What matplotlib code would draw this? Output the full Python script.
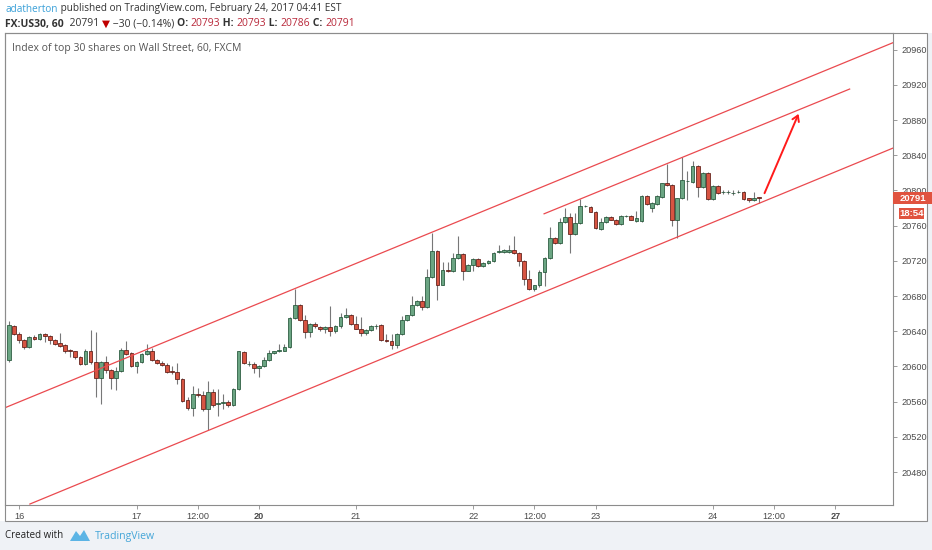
import matplotlib
matplotlib.use("Agg")
import matplotlib.pyplot as plt
from matplotlib.patches import Rectangle, Polygon, FancyArrowPatch
import numpy as np

# ---------------- data ----------------
opens = [20607, 20646, 20637, 20630, 20622, 20634, 20631, 20637, 20635, 20630,
         20627, 20624, 20619, 20617, 20611, 20603, 20617, 20605, 20587, 20605,
         20596, 20587, 20595, 20619, 20615, 20600, 20605, 20614, 20617, 20607,
         20604, 20602, 20595, 20594, 20586, 20562, 20553, 20569, 20568, 20552,
         20571, 20557, 20559, 20560, 20556, 20574, 20616, 20603, 20603, 20598,
         20600, 20607, 20615, 20617, 20618, 20622, 20655, 20670, 20653, 20639,
         20648, 20645, 20642, 20645, 20640, 20646, 20656, 20659, 20648, 20643,
         20638, 20641, 20646, 20647, 20630, 20629, 20624, 20637, 20653, 20658,
         20670, 20674, 20668, 20702, 20731, 20693, 20710, 20708, 20723, 20728,
         20709, 20715, 20722, 20714, 20718, 20720, 20730, 20730, 20730, 20732,
         20729, 20720, 20699, 20688, 20692, 20707, 20723, 20746, 20740, 20764,
         20770, 20750, 20763, 20782, 20781, 20776, 20756, 20764, 20770, 20767,
         20762, 20771, 20771, 20765, 20765, 20794, 20780, 20785, 20793, 20808,
         20806, 20767, 20791, 20811, 20810, 20828, 20804, 20820, 20790, 20805,
         20798, 20798, 20797, 20798, 20798, 20791, 20789, 20793]
highs = [20652, 20647, 20639, 20631, 20635, 20636, 20638, 20638, 20636, 20631,
         20638, 20626, 20620, 20618, 20612, 20620, 20641, 20639, 20606, 20612,
         20597, 20599, 20621, 20629, 20616, 20606, 20615, 20625, 20621, 20608,
         20606, 20604, 20601, 20604, 20587, 20565, 20578, 20576, 20572, 20583,
         20574, 20574, 20569, 20562, 20575, 20618, 20617, 20606, 20605, 20602,
         20611, 20619, 20618, 20626, 20626, 20656, 20688, 20671, 20658, 20649,
         20650, 20646, 20646, 20669, 20647, 20661, 20666, 20660, 20657, 20656,
         20642, 20647, 20648, 20648, 20637, 20637, 20638, 20657, 20659, 20680,
         20675, 20680, 20711, 20752, 20732, 20719, 20719, 20729, 20748, 20729,
         20716, 20723, 20723, 20719, 20721, 20730, 20738, 20734, 20738, 20748,
         20730, 20721, 20710, 20693, 20710, 20724, 20758, 20747, 20769, 20780,
         20774, 20774, 20790, 20783, 20782, 20777, 20769, 20771, 20771, 20768,
         20772, 20772, 20772, 20777, 20795, 20795, 20787, 20795, 20809, 20830,
         20807, 20792, 20838, 20822, 20833, 20829, 20821, 20821, 20806, 20806,
         20801, 20801, 20800, 20801, 20799, 20792, 20798, 20793]
lows = [20605, 20636, 20627, 20620, 20621, 20630, 20630, 20628, 20625, 20624,
        20622, 20615, 20611, 20609, 20602, 20602, 20603, 20565, 20557, 20592,
        20574, 20573, 20594, 20613, 20599, 20592, 20604, 20613, 20606, 20603,
        20601, 20593, 20591, 20580, 20560, 20550, 20544, 20565, 20549, 20528,
        20554, 20544, 20552, 20554, 20555, 20573, 20603, 20600, 20592, 20588,
        20599, 20606, 20614, 20616, 20617, 20621, 20654, 20652, 20632, 20633,
        20644, 20640, 20638, 20635, 20638, 20644, 20655, 20647, 20642, 20635,
        20636, 20640, 20643, 20629, 20628, 20620, 20621, 20636, 20652, 20657,
        20669, 20664, 20666, 20701, 20675, 20692, 20707, 20707, 20722, 20698,
        20708, 20708, 20713, 20713, 20717, 20719, 20729, 20729, 20729, 20728,
        20714, 20692, 20687, 20686, 20690, 20691, 20722, 20739, 20739, 20763,
        20729, 20749, 20762, 20781, 20775, 20756, 20755, 20763, 20766, 20761,
        20761, 20770, 20766, 20764, 20764, 20784, 20776, 20784, 20792, 20805,
        20760, 20746, 20790, 20789, 20809, 20793, 20803, 20789, 20789, 20796,
        20796, 20796, 20795, 20797, 20789, 20787, 20788, 20786]
closes = [20647, 20637, 20630, 20622, 20634, 20631, 20637, 20635, 20630, 20626,
          20623, 20618, 20617, 20611, 20603, 20617, 20605, 20587, 20605, 20596,
          20587, 20595, 20619, 20614, 20600, 20605, 20614, 20617, 20607, 20604,
          20602, 20594, 20594, 20586, 20561, 20553, 20569, 20567, 20552, 20571,
          20556, 20559, 20560, 20556, 20574, 20617, 20604, 20603, 20598, 20601,
          20607, 20615, 20617, 20619, 20622, 20655, 20670, 20653, 20639, 20648,
          20646, 20642, 20645, 20640, 20646, 20656, 20659, 20648, 20643, 20638,
          20641, 20646, 20646, 20630, 20629, 20624, 20637, 20653, 20658, 20670,
          20674, 20668, 20702, 20731, 20693, 20710, 20708, 20723, 20728, 20709,
          20715, 20722, 20714, 20718, 20720, 20729, 20731, 20732, 20732, 20729,
          20720, 20699, 20688, 20692, 20707, 20723, 20746, 20740, 20764, 20770,
          20750, 20763, 20782, 20782, 20776, 20757, 20764, 20770, 20767, 20762,
          20771, 20771, 20767, 20769, 20794, 20785, 20786, 20794, 20808, 20806,
          20767, 20791, 20812, 20811, 20828, 20804, 20820, 20790, 20805, 20797,
          20798, 20798, 20797, 20798, 20790, 20789, 20792, 20791]

tick_pos = [2, 25, 37, 49, 68, 91, 103, 115, 138, 150, 162]
tick_labels = ["16", "17", "12:00", "20", "21", "22", "12:00", "23", "24", "12:00", "27"]
bold_labels = {"20", "27"}
price_ticks = list(range(20480, 20961, 40))

# channel lines (bar index, price)
upper_x, upper_y = [-0.8, 173.3], [20553, 20968]
lower_x, lower_y = [4.1, 173.3], [20443.6, 20848.2]
mid_x, mid_y = [104.9, 164.8], [20773.5, 20915.3]
arrow_x, arrow_y = [147.9, 155.0], [20794, 20890]

last_price = 20791
countdown = "18:54"

# ---------------- figure ----------------
W, H = 932, 550
fig = plt.figure(figsize=(W / 100, H / 100), dpi=100, facecolor="white")

def fx(px):
    return px / W

def fy(py):
    return 1 - py / H

# light background strip below / right of the chart frame
fig.patches.append(Rectangle((0, 0), 1, fy(521), transform=fig.transFigure,
                             facecolor="#eff2f6", edgecolor="none", zorder=0))
fig.patches.append(Rectangle((fx(927), fy(521)), 1 - fx(927), fy(33) - fy(521),
                             transform=fig.transFigure, facecolor="#eff2f6",
                             edgecolor="none", zorder=0))

ax = fig.add_axes([fx(5), fy(505), fx(893) - fx(5), fy(33) - fy(505)])
ax.set_facecolor("white")
ax.set_xlim(-0.78, 173.3)
ax.set_ylim(20442.5, 20979)

idx = np.arange(len(opens))
o = np.array(opens, float); c = np.array(closes, float)
h = np.array(highs, float); l = np.array(lows, float)
up = c >= o

ax.vlines(idx, l, h, color="#777778", lw=0.8, zorder=2)
bw = 0.74
ax.bar(idx[up], (c - o)[up], bottom=o[up], width=bw, color="#6ba583",
       edgecolor="#225437", linewidth=0.55, zorder=3)
ax.bar(idx[~up], (o - c)[~up], bottom=c[~up], width=bw, color="#d75442",
       edgecolor="#5b1a13", linewidth=0.55, zorder=3)

line_col = "#ea4a4f"
ax.plot(upper_x, upper_y, color=line_col, lw=0.9, zorder=4)
ax.plot(lower_x, lower_y, color=line_col, lw=0.9, zorder=4)
ax.plot(mid_x, mid_y, color=line_col, lw=0.9, zorder=4)
ax.add_patch(FancyArrowPatch((arrow_x[0], arrow_y[0]), (arrow_x[1], arrow_y[1]),
                             arrowstyle="->,head_length=4,head_width=2.5",
                             color="#ff1a1a", lw=1.4, zorder=5))

# axes styling
for s in ax.spines.values():
    s.set_color("#8c8c8c")
    s.set_linewidth(0.8)
ax.yaxis.tick_right()
ax.set_yticks(price_ticks)
ax.set_yticklabels([str(p) for p in price_ticks])
ax.tick_params(axis="y", length=3, width=0.6, color="#8c8c8c", pad=3,
               labelsize=6.6, labelcolor="#4a4a4a")
ax.set_xticks(tick_pos)
ax.set_xticklabels(tick_labels)
ax.tick_params(axis="x", length=3, width=0.6, color="#8c8c8c", pad=2,
               labelsize=6.6, labelcolor="#4a4a4a")
for t in ax.get_yticklabels() + ax.get_xticklabels():
    t.set_family(["Liberation Sans", "DejaVu Sans"])
for t in ax.get_xticklabels():
    if t.get_text() in bold_labels:
        t.set_fontweight("bold")

# outer chart frame
fig.patches.append(Rectangle((fx(5), fy(520.5)), fx(927) - fx(5), fy(33) - fy(520.5),
                             transform=fig.transFigure, facecolor="none",
                             edgecolor="#8c8c8c", lw=0.8, zorder=1))

# price labels on the axis
yl = ax.transData.transform((0, last_price))[1] / fig.dpi / (H / 100)
fig.patches.append(Rectangle((fx(893), yl - 6 / H), fx(932) - fx(893), 12.5 / H,
                             transform=fig.transFigure, facecolor="#e0533f",
                             edgecolor="none", zorder=6))
fig.text(fx(912.5), yl, str(last_price), color="white", fontsize=6.8,
         fontweight="bold", ha="center", va="center", zorder=7,
         family=["Liberation Sans", "DejaVu Sans"])
fig.patches.append(Rectangle((fx(899), yl - 20.5 / H), fx(924) - fx(899), 11 / H,
                             transform=fig.transFigure, facecolor="#e0533f",
                             edgecolor="none", zorder=6))
fig.text(fx(911.5), yl - 15 / H, countdown, color="white", fontsize=6.8,
         fontweight="bold", ha="center", va="center", zorder=7,
         family=["Liberation Sans", "DejaVu Sans"])

# watermark title
fig.text(fx(12), fy(48), "Index of top 30 shares on Wall Street, 60, FXCM",
         color="#555555", fontsize=7.5, va="center", ha="left",
         family=["Open Sans", "DejaVu Sans"])

# header text segments
renderer = fig.canvas.get_renderer()

def seq(x_px, y_px, parts, size=7.4):
    x = x_px
    for txt, col, wt in parts:
        t = fig.text(fx(x), fy(y_px), txt, color=col, fontsize=size, fontweight=wt,
                     va="center", ha="left", family=["Open Sans", "DejaVu Sans"])
        bb = t.get_window_extent(renderer=renderer)
        x += bb.width

dark = "#333333"
redv = "#b8283a"
seq(5, 9, [("adatherton", "#3aa0d8", "normal"),
           (" published on TradingView.com, February 24, 2017 04:41 EST", dark, "normal")],
    size=7.2)
seq(5, 24, [("FX:US30, 60", dark, "bold"), ("  20791 ", dark, "normal"),
            ("▼", "#c00000", "normal"), (" \u221230 (\u22120.14%) ", dark, "normal"),
            ("O: ", dark, "bold"), ("20793", redv, "normal"),
            (" H: ", dark, "bold"), ("20793", redv, "normal"),
            (" L: ", dark, "bold"), ("20786", redv, "normal"),
            (" C: ", dark, "bold"), ("20791", redv, "normal")],
    size=7.5)

# footer
fig.text(fx(5), fy(536), "Created with", color="#222222", fontsize=7.0,
         va="center", ha="left", family=["Open Sans", "DejaVu Sans"])
logo = [(70, 541), (76, 531), (80, 536), (84, 530), (90, 541)]
fig.patches.append(Polygon([(fx(px), fy(py)) for px, py in logo], closed=True,
                           transform=fig.transFigure, facecolor="#5bb4e5",
                           edgecolor="none", zorder=2))
fig.text(fx(95), fy(536), "TradingView", color="#45a6d8", fontsize=7.6,
         va="center", ha="left", family=["Open Sans", "DejaVu Sans"])

fig.savefig("out.png", dpi=100, facecolor=fig.get_facecolor())
